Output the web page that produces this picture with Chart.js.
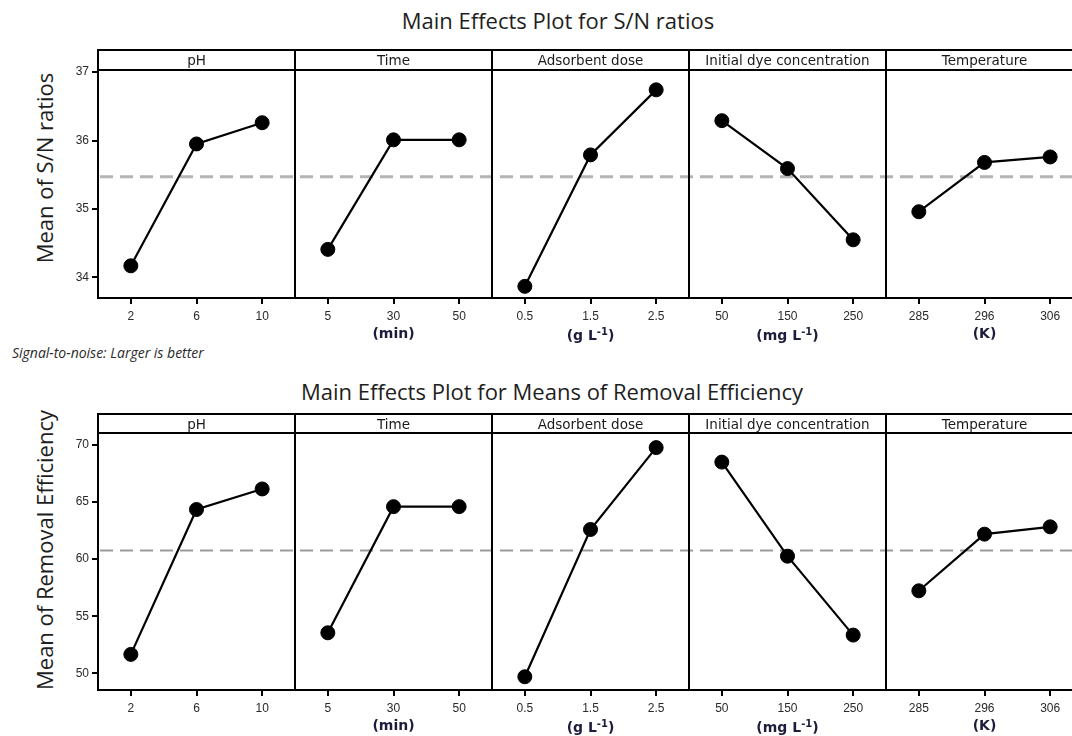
<!DOCTYPE html>
<html>
<head>
<meta charset="utf-8">
<script src="https://cdn.jsdelivr.net/npm/chart.js@4.4.0/dist/chart.umd.min.js"></script>
<style>
  html, body { margin:0; padding:0; width:1072px; height:736px; overflow:hidden; background:#fff; }
  .abs { position:absolute; white-space:nowrap; }
  .title { font-family:'Open Sans', sans-serif; font-size:22px; line-height:30px; color:#1e1e1e; transform:translateX(-50%); }
  .ytitle { font-family:'Open Sans', sans-serif; font-size:22px; line-height:30px; color:#1e1e1e; transform:translate(-50%,-50%) rotate(-90deg); }
  .hdr { font-family:'DejaVu Sans', sans-serif; font-size:13.5px; line-height:16px; color:#1a1a1a; transform:translate(-50%,-50%); }
  .unit { font-family:'DejaVu Sans', sans-serif; font-weight:bold; font-size:14px; line-height:18px; color:#1c1c3c; transform:translate(-50%,-50%); }
  .unit sup { font-size:10px; vertical-align:5px; }
  .note { font-family:'Open Sans', sans-serif; font-style:italic; font-size:14px; line-height:18px; color:#2a2a2a; transform:translateY(-50%); }
  canvas { position:absolute; }
</style>
</head>
<body>
<script>
// ---------------- data ----------------
const factorNames = ["pH", "Time", "Adsorbent dose", "Initial dye concentration", "Temperature"];
const levelsPH   = ["2", "6", "10"];
const levelsTime = ["5", "30", "50"];
const levelsDose = ["0.5", "1.5", "2.5"];
const levelsDye  = ["50", "150", "250"];
const levelsTemp = ["285", "296", "306"];
const unitLabels = ["", "(min)", "(g L<sup>-1</sup>)", "(mg L<sup>-1</sup>)", "(K)"];

// S/N ratios (larger is better)
const snPH   = [34.17, 35.95, 36.26];
const snTime = [34.41, 36.01, 36.01];
const snDose = [33.87, 35.79, 36.74];
const snDye  = [36.29, 35.59, 34.55];
const snTemp = [34.96, 35.68, 35.76];
const snMean = 35.47;
const snTicks = [34, 35, 36, 37];
const snRange = [33.70, 37.03];

// Means of removal efficiency
const rePH   = [51.66, 64.35, 66.15];
const reTime = [53.55, 64.60, 64.60];
const reDose = [49.70, 62.60, 69.77];
const reDye  = [68.50, 60.26, 53.35];
const reTemp = [57.23, 62.19, 62.83];
const reMean = 60.76;
const reTicks = [50, 55, 60, 65, 70];
const reRange = [48.54, 71.05];

const mainTitles = ["Main Effects Plot for S/N ratios", "Main Effects Plot for Means of Removal Efficiency"];
const yTitles = ["Mean of S/N ratios", "Mean of Removal Efficiency"];
const noteText = "Signal-to-noise: Larger is better";

// ---------------- layout ----------------
const levelSets = [levelsPH, levelsTime, levelsDose, levelsDye, levelsTemp];
const rowsData = [
  { series:[snPH, snTime, snDose, snDye, snTemp], mean:snMean, ticks:snTicks, range:snRange,
    boxTop:50, headerH:20, plotBottom:298, titleTop:5, titleX:558, yTitleY:168,
    meanColor:'#b4b4b4', meanWidth:3 },
  { series:[rePH, reTime, reDose, reDye, reTemp], mean:reMean, ticks:reTicks, range:reRange,
    boxTop:414, headerH:19, plotBottom:690, titleTop:376, titleX:552, yTitleY:550,
    meanColor:'#9c9c9c', meanWidth:1.8 }
];
const panelLefts = [98, 295, 492, 689, 886];
const panelW = 197;
const PAD = 10;
const Y_AXIS_W = 44;
const X_AXIS_H = 30;
const TICK_LEN = 6;

Chart.defaults.font.family = "'Liberation Sans', Arial, sans-serif";
Chart.defaults.color = '#2a2a2a';

const framePlugin = {
  id: 'frame',
  beforeDatasetsDraw(chart, args, opts) {
    const { ctx, chartArea: a, scales } = chart;
    const y = scales.y.getPixelForValue(opts.mean);
    ctx.save();
    ctx.strokeStyle = opts.meanColor;
    ctx.lineWidth = opts.meanWidth;
    ctx.setLineDash([13, 7]);
    ctx.lineDashOffset = (opts.canvasLeft + a.left) % 20;
    ctx.beginPath();
    ctx.moveTo(a.left, y);
    ctx.lineTo(a.right, y);
    ctx.stroke();
    ctx.restore();
  },
  afterDraw(chart, args, opts) {
    const { ctx, chartArea: a, scales } = chart;
    ctx.save();
    ctx.strokeStyle = '#000';
    ctx.lineWidth = 2;
    ctx.beginPath();
    scales.x.ticks.forEach((t, i) => {
      const x = Math.round(scales.x.getPixelForTick(i));
      ctx.moveTo(x, a.bottom);
      ctx.lineTo(x, a.bottom + TICK_LEN);
    });
    if (opts.showY) {
      scales.y.ticks.forEach(t => {
        const y = Math.round(scales.y.getPixelForValue(t.value));
        ctx.moveTo(a.left, y);
        ctx.lineTo(a.left - TICK_LEN, y);
      });
    }
    ctx.stroke();
    ctx.strokeRect(a.left, a.top, a.right - a.left, a.bottom - a.top);
    ctx.strokeRect(a.left, a.top - opts.headerH, a.right - a.left, opts.headerH);
    ctx.restore();
  }
};

function addDiv(cls, html, left, top) {
  const d = document.createElement('div');
  d.className = 'abs ' + cls;
  d.innerHTML = html;
  d.style.left = left + 'px';
  d.style.top = top + 'px';
  document.body.appendChild(d);
  return d;
}

rowsData.forEach((row, r) => {
  addDiv('title', mainTitles[r], row.titleX, row.titleTop);
  addDiv('ytitle', yTitles[r], 44, row.yTitleY);

  const plotTop = row.boxTop + row.headerH;
  const plotH = row.plotBottom - plotTop;

  for (let i = 0; i < 5; i++) {
    const showY = i === 0;
    const cLeft = panelLefts[i] - PAD - (showY ? Y_AXIS_W : 0);
    const cTop = row.boxTop - PAD;
    const cW = panelW + 2 * PAD + (showY ? Y_AXIS_W : 0);
    const cH = PAD + row.headerH + plotH + X_AXIS_H;

    const cv = document.createElement('canvas');
    cv.width = cW; cv.height = cH;
    cv.style.left = cLeft + 'px';
    cv.style.top = cTop + 'px';
    cv.style.width = cW + 'px';
    cv.style.height = cH + 'px';
    document.body.appendChild(cv);

    new Chart(cv, {
      type: 'line',
      data: {
        labels: levelSets[i],
        datasets: [{
          data: row.series[i],
          borderColor: '#000',
          borderWidth: 2.2,
          pointRadius: 7,
          pointHoverRadius: 7,
          pointStyle: 'circle',
          pointBackgroundColor: '#000',
          pointBorderColor: '#000',
          pointBorderWidth: 1,
          tension: 0,
          clip: false
        }]
      },
      options: {
        responsive: false,
        animation: false,
        events: [],
        devicePixelRatio: 1,
        layout: { padding: { left: PAD, right: PAD, top: PAD + row.headerH, bottom: 0 } },
        plugins: {
          legend: { display: false },
          tooltip: { enabled: false },
          title: { display: false },
          frame: { mean: row.mean, headerH: row.headerH, meanColor: row.meanColor,
                   meanWidth: row.meanWidth, canvasLeft: cLeft, showY: showY }
        },
        scales: {
          x: {
            type: 'category',
            offset: true,
            border: { display: false },
            grid: { display: false, drawTicks: true, tickLength: TICK_LEN },
            ticks: { padding: 5, font: { size: 12 }, color: '#2a2a2a', maxRotation: 0, autoSkip: false },
            afterFit(scale) { scale.height = X_AXIS_H; scale.paddingLeft = 0; scale.paddingRight = 0; }
          },
          y: {
            type: 'linear',
            display: showY,
            min: row.range[0],
            max: row.range[1],
            border: { display: false },
            grid: { display: false, drawTicks: true, tickLength: TICK_LEN },
            ticks: { padding: 3, font: { size: 12 }, color: '#2a2a2a' },
            afterBuildTicks(scale) { scale.ticks = row.ticks.map(v => ({ value: v })); },
            afterFit(scale) { if (showY) scale.width = Y_AXIS_W; scale.paddingTop = 0; scale.paddingBottom = 0; }
          }
        }
      },
      plugins: [framePlugin]
    });

    const cx = panelLefts[i] + panelW / 2;
    addDiv('hdr', factorNames[i], cx, row.boxTop + row.headerH / 2);
    if (unitLabels[i]) addDiv('unit', unitLabels[i], cx, row.plotBottom + 35);
  }
  if (r === 0) addDiv('note', noteText, 12, 353);
});
</script>
</body>
</html>
